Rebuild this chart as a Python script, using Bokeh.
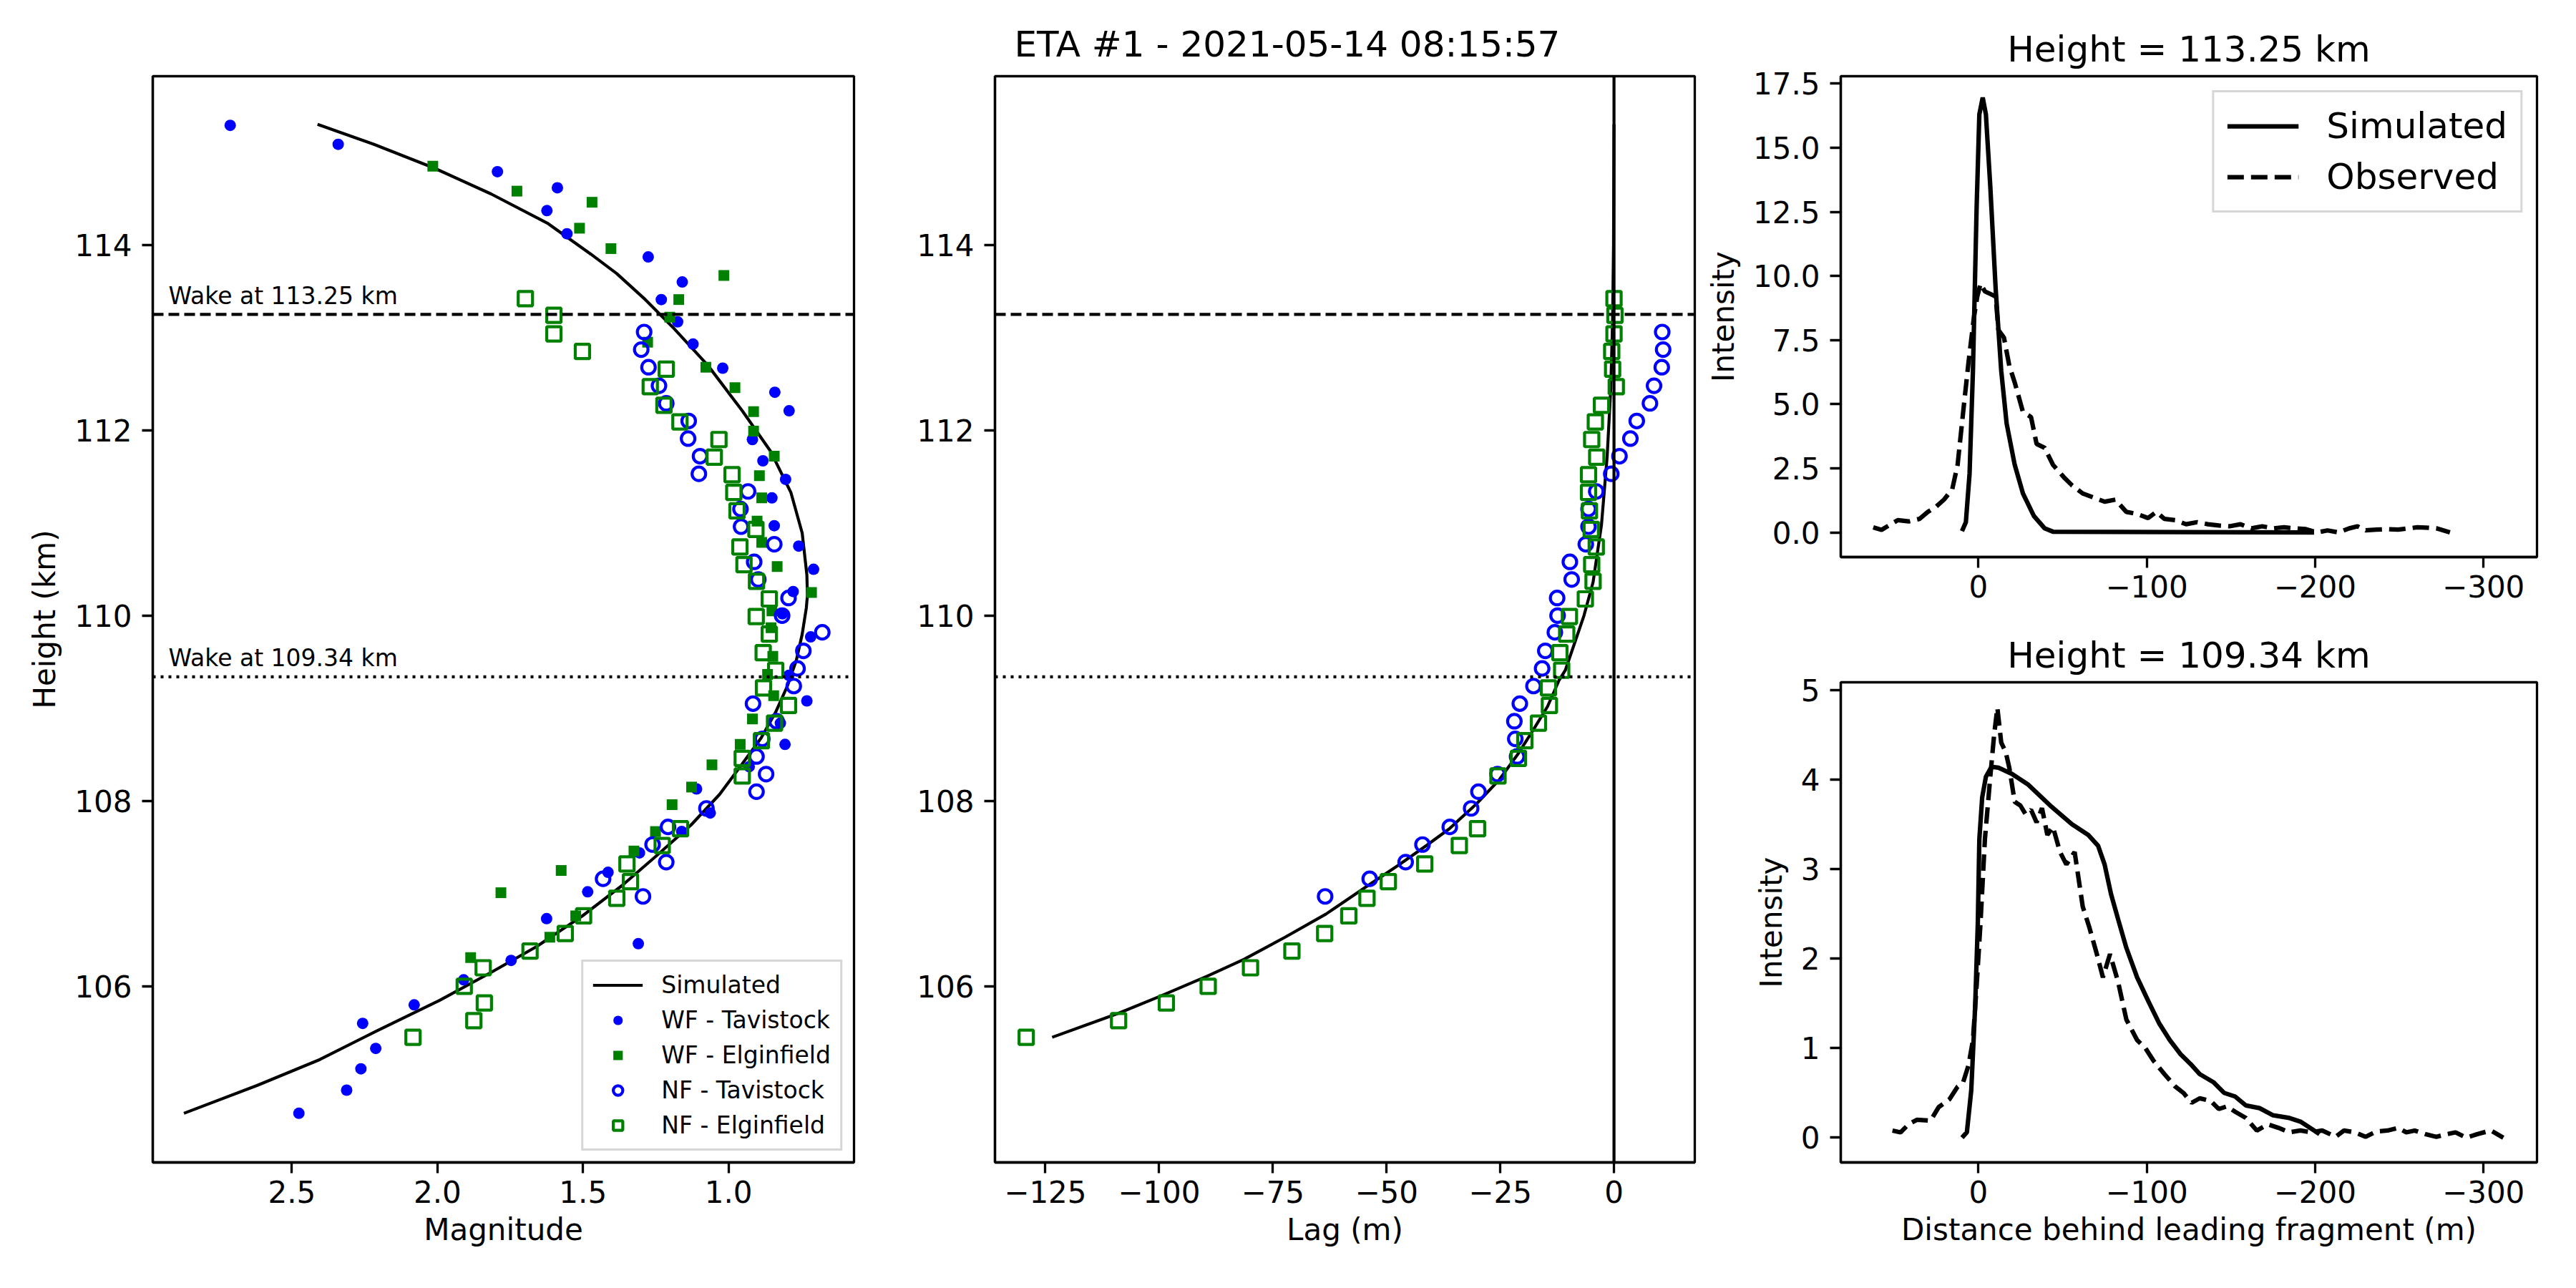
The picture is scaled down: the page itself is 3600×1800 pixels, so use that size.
from bokeh.plotting import figure
from bokeh.models import Range1d, FixedTicker, Legend, LegendItem, Span, Label
from bokeh.layouts import row, column
from bokeh.embed import file_html
from bokeh.resources import INLINE

FONT = "DejaVu Sans"
BLUE = "#0000ff"
GREEN = "#008000"

# ---------------- Left panel: Magnitude vs Height ----------------
sim_mag = [2.412, 2.218, 2.012, 1.816, 1.620, 1.473, 1.384, 1.286, 1.188, 1.071, 0.953, 0.855,
           0.786, 0.747, 0.731, 0.729, 0.733, 0.747, 0.767, 0.798, 0.838, 0.888, 0.953, 1.031,
           1.129, 1.247, 1.365, 1.502, 1.659, 1.816, 1.992, 2.208, 2.404, 2.620, 2.871]
sim_mag_h = [115.30, 115.085, 114.83, 114.55, 114.23, 113.90, 113.69, 113.41, 113.10, 112.70, 112.21, 111.77,
             111.33, 110.89, 110.44, 110.22, 110.08, 109.80, 109.52, 109.24, 108.96, 108.68, 108.40, 108.07,
             107.74, 107.41, 107.09, 106.76, 106.43, 106.15, 105.85, 105.52, 105.21, 104.93, 104.63]

wf_tav_h = [115.29, 115.085, 114.79, 114.616, 114.37, 114.12, 113.87, 113.60, 113.41, 113.17, 112.93, 112.67,
            112.41, 112.21, 111.90, 111.67, 111.47, 111.27, 110.97, 110.75, 110.50, 110.26, 110.02, 109.77,
            109.355, 109.08, 108.84, 108.61, 108.37, 108.13, 107.87, 107.67, 107.44, 107.23, 107.02, 106.73,
            106.46, 106.28, 106.07, 105.80, 105.60, 105.33, 105.11, 104.88, 104.63]
wf_tav_mag = [2.712, 2.341, 1.794, 1.588, 1.624, 1.555, 1.276, 1.159, 1.231, 1.175, 1.122, 1.020,
              0.841, 0.792, 0.918, 0.882, 0.804, 0.851, 0.843, 0.759, 0.708, 0.778, 0.815, 0.718,
              0.793, 0.731, 0.822, 0.806, 0.929, 1.110, 1.063, 1.161, 1.306, 1.414, 1.484, 1.625,
              1.310, 1.747, 1.910, 2.080, 2.257, 2.212, 2.263, 2.312, 2.476]

wf_elg_h = [114.85, 114.58, 114.46, 114.18, 113.96, 113.67, 113.41, 113.22, 112.95, 112.68, 112.46, 112.20,
            111.99, 111.72, 111.51, 111.27, 111.02, 110.79, 110.53, 110.25, 110.05, 109.87, 109.56, 109.365,
            109.135, 108.885, 108.61, 108.39, 108.15, 107.96, 107.67, 107.46, 107.25, 107.01, 106.76, 106.53,
            106.31]
wf_elg_mag = [2.016, 1.727, 1.469, 1.512, 1.404, 1.016, 1.171, 1.202, 1.278, 1.078, 0.978, 0.914,
              0.914, 0.843, 0.894, 0.886, 0.902, 0.886, 0.833, 0.715, 0.851, 0.854, 0.848, 0.866,
              0.845, 0.918, 0.960, 1.057, 1.127, 1.194, 1.251, 1.325, 1.575, 1.782, 1.525, 1.614,
              1.886]

nf_tav_h = [113.06, 112.87, 112.68, 112.48, 112.29, 112.10, 111.91, 111.72, 111.53, 111.34, 111.15, 110.96,
            110.77, 110.58, 110.39, 110.19, 110.00, 109.82, 109.62, 109.43, 109.24, 109.05, 108.86, 108.67,
            108.48, 108.29, 108.10, 107.92, 107.72, 107.53, 107.34, 107.16, 106.97]
nf_tav_mag = [1.290, 1.300, 1.275, 1.239, 1.214, 1.137, 1.139, 1.098, 1.102, 0.933, 0.959, 0.957,
              0.843, 0.912, 0.898, 0.794, 0.816, 0.678, 0.743, 0.763, 0.776, 0.916, 0.835, 0.884,
              0.904, 0.871, 0.904, 1.076, 1.208, 1.261, 1.214, 1.431, 1.294]
nf_tav_lag = [10.6, 10.8, 10.5, 8.8, 7.9, 5.0, 3.6, 1.2, -0.6, -3.9, -5.6, -5.6,
              -6.2, -9.7, -9.3, -12.5, -12.4, -13.0, -15.1, -15.8, -17.7, -20.7, -21.9, -21.7,
              -21.3, -25.6, -29.8, -31.4, -36.1, -42.1, -45.8, -53.7, -63.5]

nf_elg_h = [113.42, 113.24, 113.04, 112.85, 112.66, 112.47, 112.27, 112.09, 111.90, 111.71, 111.52, 111.33,
            111.13, 110.93, 110.74, 110.55, 110.37, 110.18, 109.99, 109.80, 109.60, 109.41, 109.22, 109.03,
            108.84, 108.65, 108.46, 108.27, 107.70, 107.52, 107.32, 107.13, 106.95, 106.76, 106.57, 106.38,
            106.20, 106.00, 105.82, 105.63, 105.45]
nf_elg_mag = [1.698, 1.600, 1.600, 1.502, 1.214, 1.269, 1.222, 1.167, 1.033, 1.049, 0.988, 0.982,
              0.971, 0.906, 0.961, 0.947, 0.904, 0.860, 0.905, 0.860, 0.881, 0.838, 0.880, 0.794,
              0.842, 0.887, 0.953, 0.953, 1.165, 1.228, 1.349, 1.337, 1.384, 1.498, 1.561, 1.682,
              1.843, 1.908, 1.839, 1.875, 2.084]
nf_elg_lag = [0.0, 0.2, 0.0, -0.5, -0.3, 0.5, -2.75, -4.1, -4.9, -3.8, -5.6, -5.6,
              -5.4, -5.0, -3.9, -4.9, -4.6, -6.3, -9.8, -10.4, -11.9, -11.5, -14.4, -14.2,
              -16.6, -19.6, -21.0, -25.5, -30.0, -34.0, -41.6, -49.6, -54.3, -58.3, -63.6, -70.8,
              -79.9, -89.2, -98.4, -108.9, -129.2]

# ---------------- Middle panel: simulated lag ----------------
sim_lag = [-123.5, -108.9, -99.9, -89.4, -81.4, -72.3, -63.3, -54.3, -47.3, -41.2, -36.2, -30.2,
           -25.2, -21.2, -17.7, -14.6, -12.1, -10.7, -6.6, -4.6, -2.75, -1.5, -0.7, -0.3, -0.1, 0.0]
sim_lag_h = [105.45, 105.71, 105.89, 106.11, 106.29, 106.53, 106.78, 107.08, 107.31, 107.52, 107.70, 107.97,
             108.23, 108.50, 108.77, 109.02, 109.30, 109.41, 110.00, 110.36, 110.98, 111.72, 112.46, 113.20,
             114.00, 115.30]

wake_heights = [113.25, 109.34]
wake_dashes = ["15 7", "4 7"]

# ---------------- Right panels: wake profiles ----------------
top_sim_d = [9.7, 7.4, 5.2, 3.2, 1.0, -0.6, -2.6, -4.5, -7.1, -10.3, -13.6, -16.8, -21.6, -26.5,
             -33.0, -39.4, -44.3, -199.4]
top_sim_i = [0.05, 0.4, 2.3, 6.3, 12.7, 16.3, 16.96, 16.3, 13.5, 9.5, 6.3, 4.25, 2.64, 1.52,
             0.64, 0.16, 0.03, 0.0]
top_obs_d = [62.4, 57.5, 47.8, 41.4, 34.9, 30.0, 25.2, 20.4, 15.5, 12.3, 9.0, 5.8, 2.6, 0.6, -1.3,
             -3.9, -7.1, -10.3, -11.9, -15.2, -18.4, -21.6, -26.5, -31.3, -34.6, -39.4, -44.3, -50.7,
             -55.6, -62.0, -68.5, -75.0, -81.4, -87.9, -94.3, -100.8, -105.7, -110.5, -117.0, -123.4,
             -129.9, -136.3, -142.8, -149.2, -155.7, -162.2, -168.6, -175.1, -181.6, -188.0, -194.5,
             -201.0, -207.4, -213.9, -220.3, -225.2, -230.0, -236.5, -243.0, -249.4, -255.8, -260.7,
             -265.6, -272.0, -280.1]
top_obs_i = [0.2, 0.1, 0.48, 0.43, 0.53, 0.8, 1.0, 1.28, 1.68, 2.64, 4.7, 6.65, 8.4, 9.2, 9.7,
             9.4, 9.3, 9.2, 7.9, 7.6, 6.5, 5.85, 4.7, 4.5, 3.45, 3.3, 2.64, 2.16,
             1.84, 1.52, 1.36, 1.2, 1.28, 0.8, 0.72, 0.56, 0.8, 0.53, 0.48, 0.32,
             0.4, 0.32, 0.27, 0.24, 0.32, 0.16, 0.24, 0.16, 0.2, 0.16, 0.13,
             0.0, 0.08, 0.0, 0.16, 0.24, 0.08, 0.11, 0.13, 0.11, 0.16, 0.2,
             0.19, 0.16, 0.0]

bot_sim_d = [9.7, 6.8, 4.2, 1.9, 0.3, -0.6, -2.3, -4.5, -7.8, -12.0, -20.0, -29.7, -42.6, -55.6,
             -65.3, -71.1, -75.0, -78.8, -83.0, -87.9, -94.3, -100.8, -107.3, -113.7, -120.2, -126.7,
             -131.5, -139.6, -146.0, -152.5, -158.9, -167.0, -175.1, -184.8, -191.3, -199.4, -202.6]
bot_sim_i = [0.0, 0.06, 0.53, 1.46, 2.4, 3.33, 3.8, 4.03, 4.14, 4.13, 4.06, 3.94, 3.71, 3.5,
             3.38, 3.26, 3.05, 2.72, 2.44, 2.12, 1.79, 1.53, 1.28, 1.09, 0.93, 0.81,
             0.71, 0.62, 0.5, 0.46, 0.36, 0.33, 0.25, 0.22, 0.18, 0.08, 0.04]
bot_obs_d = [51.0, 46.2, 41.4, 36.5, 28.4, 23.6, 17.1, 12.3, 9.0, 5.8, 3.2, 1.0, -1.3, -3.9, -7.1,
             -9.4, -11.3, -13.6, -16.2, -18.4, -21.6, -24.9, -28.1, -31.3, -34.6, -37.8, -41.0, -44.3,
             -48.5, -52.3, -57.2, -62.0, -65.9, -70.1, -74.0, -78.2, -83.0, -87.9, -94.3, -99.2,
             -104.0, -110.5, -117.0, -121.8, -126.7, -131.5, -138.0, -142.8, -147.7, -152.5, -158.9,
             -165.4, -171.9, -178.3, -184.8, -191.3, -197.7, -204.2, -212.3, -217.1, -223.6, -230.0,
             -236.5, -243.0, -249.4, -254.2, -259.1, -265.6, -272.0, -278.5, -283.4, -289.8, -296.3,
             -304.4, -311.8]
bot_obs_i = [0.08, 0.06, 0.15, 0.2, 0.19, 0.34, 0.43, 0.57, 0.62, 0.81, 1.09, 1.7, 2.4, 3.33, 4.03,
             4.5, 4.8, 4.41, 4.31, 4.13, 3.75, 3.71, 3.61, 3.66, 3.52, 3.68, 3.38, 3.47,
             3.19, 3.05, 3.19, 2.58, 2.35, 2.07, 1.79, 2.05, 1.74, 1.32, 1.09, 1.0,
             0.86, 0.71, 0.57, 0.5, 0.39, 0.44, 0.41, 0.32, 0.35, 0.29, 0.22,
             0.08, 0.15, 0.11, 0.06, 0.08, 0.06, 0.08, 0.01, 0.08, 0.06, 0.01,
             0.07, 0.08, 0.11, 0.06, 0.08, 0.04, 0.01, 0.04, 0.06, 0.0, 0.04,
             0.08, 0.0]

mag_ticks = [2.5, 2.0, 1.5, 1.0]
mag_labels = ["2.5", "2.0", "1.5", "1.0"]
h_ticks = [106, 108, 110, 112, 114]
lag_ticks = [-125, -100, -75, -50, -25, 0]
lag_labels = ["\u2212125", "\u2212100", "\u221275", "\u221250", "\u221225", "0"]
dist_ticks = [0, -100, -200, -300]
dist_labels = ["0", "\u2212100", "\u2212200", "\u2212300"]
top_i_ticks = [0.0, 2.5, 5.0, 7.5, 10.0, 12.5, 15.0, 17.5]
top_i_labels = ["0.0", "2.5", "5.0", "7.5", "10.0", "12.5", "15.0", "17.5"]
bot_i_ticks = [0, 1, 2, 3, 4, 5]

TICK_FS = "42px"
LW_AX = 3.3


def style(p, xt, xl, yt, yl, xlab, ylab):
    p.xgrid.grid_line_color = None
    p.ygrid.grid_line_color = None
    p.outline_line_color = "black"
    p.outline_line_width = LW_AX
    p.outline_line_alpha = 1.0
    p.background_fill_color = "white"
    p.border_fill_color = "white"
    for ax, ticks, labels, lab in ((p.xaxis[0], xt, xl, xlab), (p.yaxis[0], yt, yl, ylab)):
        ax.ticker = FixedTicker(ticks=ticks)
        ax.major_label_overrides = {t: s for t, s in zip(ticks, labels)}
        ax.axis_line_width = LW_AX
        ax.axis_line_color = "black"
        ax.major_tick_line_width = LW_AX
        ax.major_tick_line_color = "black"
        ax.major_tick_out = 15
        ax.major_tick_in = 0
        ax.minor_tick_line_color = None
        ax.major_label_text_font = FONT
        ax.major_label_text_font_size = TICK_FS
        ax.major_label_text_color = "black"
        ax.axis_label = lab
        ax.axis_label_text_font = FONT
        ax.axis_label_text_font_size = TICK_FS
        ax.axis_label_text_font_style = "normal"
        ax.axis_label_text_color = "black"
    p.xaxis[0].major_label_standoff = 10
    p.xaxis[0].axis_label_standoff = 10
    p.yaxis[0].major_label_standoff = 14
    p.yaxis[0].axis_label_standoff = 14


def set_title(p, text, align, offset, standoff):
    p.title.text = text
    p.title.text_font = FONT
    p.title.text_font_size = "50px"
    p.title.text_font_style = "normal"
    p.title.text_color = "black"
    p.title.align = align
    p.title.offset = offset
    p.title.standoff = standoff


common = dict(toolbar_location=None, tools="", output_backend="svg")

# ---- left ----
left = figure(width=1198, height=1784, min_border_left=213, min_border_right=5,
              min_border_top=106, min_border_bottom=160,
              x_range=Range1d(2.978, 0.569), y_range=Range1d(104.10, 115.82), **common)
style(left, mag_ticks, mag_labels, h_ticks, [str(t) for t in h_ticks], "Magnitude", "Height (km)")
for hh, dash in zip(wake_heights, wake_dashes):
    left.add_layout(Span(location=hh, dimension="width", line_color="black", line_width=4.2, line_dash=dash))
    left.add_layout(Label(x=2.924, y=hh + 0.2, text="Wake at %.2f km" % hh, text_font=FONT,
                          text_font_size="33px", text_baseline="alphabetic", text_color="black"))
r_sim = left.line(sim_mag, sim_mag_h, line_color="black", line_width=4.2)
r_wt = left.scatter(wf_tav_mag, wf_tav_h, marker="circle", size=16, fill_color=BLUE, line_color=None)
r_we = left.scatter(wf_elg_mag, wf_elg_h, marker="square", size=15, fill_color=GREEN, line_color=None)
r_nt = left.scatter(nf_tav_mag, nf_tav_h, marker="circle", size=19, fill_color=None, line_color=BLUE, line_width=4.2)
r_ne = left.scatter(nf_elg_mag, nf_elg_h, marker="square", size=20, fill_color=None, line_color=GREEN, line_width=4.2)
leg = Legend(items=[LegendItem(label="Simulated", renderers=[r_sim]),
                    LegendItem(label="WF - Tavistock", renderers=[r_wt]),
                    LegendItem(label="WF - Elginfield", renderers=[r_we]),
                    LegendItem(label="NF - Tavistock", renderers=[r_nt]),
                    LegendItem(label="NF - Elginfield", renderers=[r_ne])],
             location="bottom_right", margin=16, padding=13, spacing=10,
             label_height=33, glyph_height=33, glyph_width=70, label_standoff=26,
             label_text_font=FONT, label_text_font_size="33px", label_text_color="black",
             border_line_color="#cccccc", border_line_width=LW_AX, border_line_alpha=0.8,
             background_fill_color="white", background_fill_alpha=0.8)
left.add_layout(leg)

# ---- middle ----
mid = figure(width=1182, height=1784, min_border_left=192, min_border_right=12,
             min_border_top=106, min_border_bottom=160,
             x_range=Range1d(-136.07, 17.76), y_range=Range1d(104.10, 115.82), **common)
style(mid, lag_ticks, lag_labels, h_ticks, [str(t) for t in h_ticks], "Lag (m)", "")
set_title(mid, "ETA #1 - 2021-05-14 08:15:57", "left", 27, 31)
for hh, dash in zip(wake_heights, wake_dashes):
    mid.add_layout(Span(location=hh, dimension="width", line_color="black", line_width=4.2, line_dash=dash))
mid.add_layout(Span(location=0, dimension="height", line_color="black", line_width=4.2))
mid.line(sim_lag, sim_lag_h, line_color="black", line_width=4.2)
mid.scatter(nf_tav_lag, nf_tav_h, marker="circle", size=19, fill_color=None, line_color=BLUE, line_width=4.2)
mid.scatter(nf_elg_lag, nf_elg_h, marker="square", size=20, fill_color=None, line_color=GREEN, line_width=4.2)

# ---- top right ----
tr = figure(width=1204, height=868, min_border_left=185, min_border_right=39,
            min_border_top=106, min_border_bottom=90,
            x_range=Range1d(81.7, -331.8), y_range=Range1d(-0.96, 17.79), **common)
style(tr, dist_ticks, dist_labels, top_i_ticks, top_i_labels, "", "Intensity")
set_title(tr, "Height = 113.25 km", "center", 0, 17)
r1 = tr.line(top_sim_d, top_sim_i, line_color="black", line_width=6.25)
r2 = tr.line(top_obs_d, top_obs_i, line_color="black", line_width=6.25, line_dash="23 10")
leg2 = Legend(items=[LegendItem(label="Simulated", renderers=[r1]),
                     LegendItem(label="Observed", renderers=[r2])],
              location="top_right", margin=20, padding=18, spacing=13,
              label_height=50, glyph_height=50, glyph_width=100, label_standoff=39,
              label_text_font=FONT, label_text_font_size="50px", label_text_color="black",
              border_line_color="#cccccc", border_line_width=LW_AX, border_line_alpha=0.8,
              background_fill_color="white", background_fill_alpha=0.8)
tr.add_layout(leg2)

# ---- bottom right ----
br = figure(width=1204, height=916, min_border_left=185, min_border_right=39,
            min_border_top=85, min_border_bottom=160,
            x_range=Range1d(81.7, -331.8), y_range=Range1d(-0.276, 5.084), **common)
style(br, dist_ticks, dist_labels, bot_i_ticks, [str(t) for t in bot_i_ticks],
      "Distance behind leading fragment (m)", "Intensity")
set_title(br, "Height = 109.34 km", "center", 0, 17)
br.line(bot_sim_d, bot_sim_i, line_color="black", line_width=6.25)
br.line(bot_obs_d, bot_obs_i, line_color="black", line_width=6.25, line_dash="23 10")

layout = row(left, mid, column(tr, br, spacing=0), spacing=0)
open("out.html", "w").write(file_html(layout, INLINE))
